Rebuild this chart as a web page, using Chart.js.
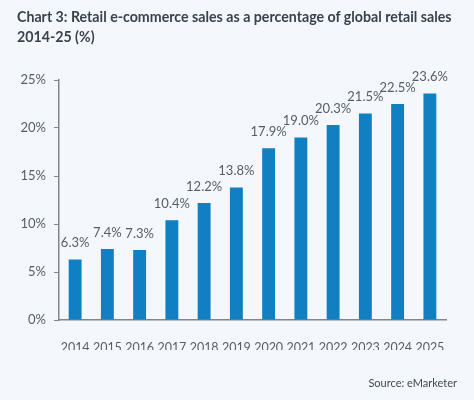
<!DOCTYPE html>
<html><head><meta charset="utf-8">
<script src="https://cdn.jsdelivr.net/npm/chart.js@4"></script>
<style>
html,body{margin:0;padding:0;background:#f4f8fc;}
#wrap{position:relative;width:474px;height:400px;}
#title{position:absolute;left:17px;top:7px;font:bold 14.2px Lato,sans-serif;color:#38424d;line-height:20px;}
#source{position:absolute;right:17px;top:376px;font:11px Lato,sans-serif;color:#3d4752;}
canvas{position:absolute;left:0;top:0;}
</style></head>
<body><div id="wrap">
<canvas id="c" width="474" height="400"></canvas>
<div id="title">Chart 3: Retail e-commerce sales as a percentage of global retail sales<br>2014-25 (%)</div>
<div id="source">Source: eMarketer</div>
</div>
<script>
const years = ["2014","2015","2016","2017","2018","2019","2020","2021","2022","2023","2024","2025"];
const shares = [6.3,7.4,7.3,10.4,12.2,13.8,17.9,19.0,20.3,21.5,22.5,23.6];
const valueLabels = ["6.3%","7.4%","7.3%","10.4%","12.2%","13.8%","17.9%","19.0%","20.3%","21.5%","22.5%","23.6%"];

const labelPlugin = {
  id:'vlabels',
  afterDatasetsDraw(chart){
    const ctx = chart.ctx;
    const meta = chart.getDatasetMeta(0);
    ctx.save();
    ctx.font = '13px Lato, sans-serif';
    ctx.fillStyle = '#555d66';
    ctx.textAlign = 'center';
    ctx.textBaseline = 'bottom';
    meta.data.forEach((bar,i)=>{
      ctx.fillText(valueLabels[i], bar.x, bar.y - 10);
    });
    ctx.restore();
  }
};

new Chart(document.getElementById('c'), {
  type:'bar',
  data:{labels:years,datasets:[{data:shares,backgroundColor:'#1180c2',categoryPercentage:0.8,barPercentage:0.5}]},
  options:{
    responsive:false,animation:false,
    layout:{padding:{left:9,right:28,top:80,bottom:50}},
    plugins:{legend:{display:false},tooltip:{enabled:false}},
    scales:{
      x:{grid:{display:false},border:{color:'#7f868e',width:1.5},
         ticks:{color:'#555d66',font:{family:'Lato',size:12.5},padding:12,maxRotation:0,autoSkip:false},
         afterFit(s){s.height=30;}},
      y:{min:0,max:25,
         ticks:{stepSize:5,color:'#555d66',font:{family:'Lato',size:13},padding:8,callback:v=>v+'%'},
         grid:{drawOnChartArea:false,drawTicks:true,tickLength:5,color:'#7f868e'},
         border:{color:'#7f868e',width:1.5},
         afterFit(s){s.width=50;}}
    }
  },
  plugins:[labelPlugin]
});
</script>
</body></html>
